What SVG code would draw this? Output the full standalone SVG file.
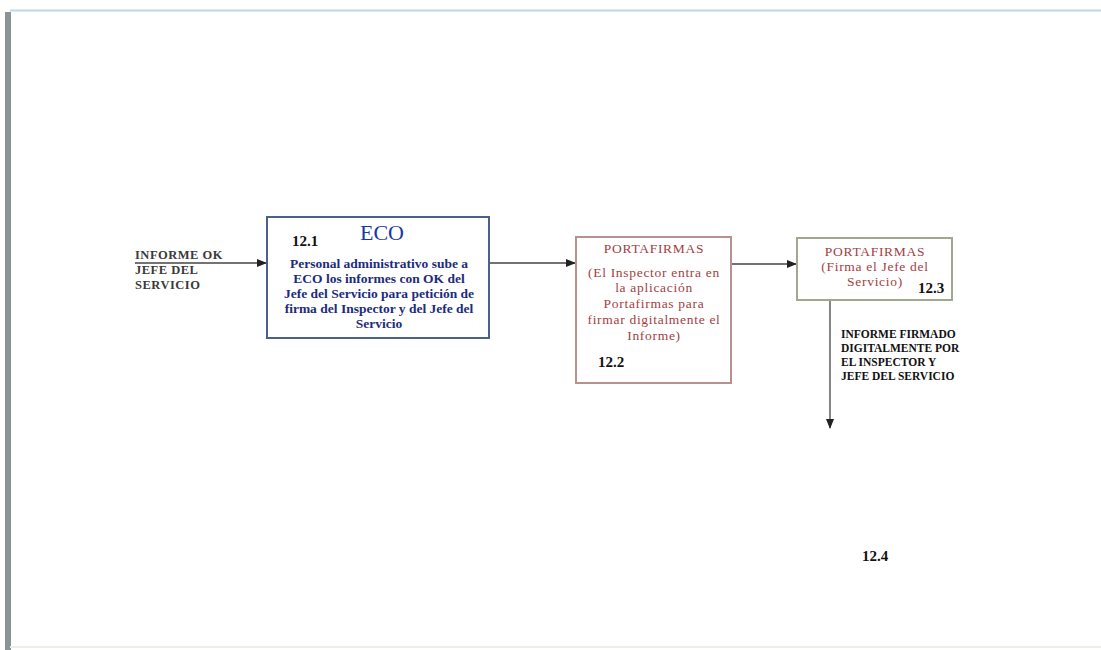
<svg xmlns="http://www.w3.org/2000/svg" width="1101" height="650" viewBox="0 0 1101 650">
<defs>
<style>
.serif{font-family:"Liberation Serif","Times New Roman",serif}
.lbl{font-family:"Liberation Serif",serif;font-size:12.5px;font-weight:bold;fill:#3a3a3a;letter-spacing:0.5px}
.out{font-family:"Liberation Serif",serif;font-size:11.5px;font-weight:bold;fill:#111}
.num{font-family:"Liberation Serif",serif;font-size:15px;font-weight:bold;fill:#111}
.red{font-family:"Liberation Serif",serif;font-size:13.5px;fill:#a5403f;text-anchor:middle;letter-spacing:0.7px}
.blue{font-family:"Liberation Serif",serif;font-size:13.5px;font-weight:bold;fill:#1c2c7c;text-anchor:middle}
.box{fill:#fff;stroke-width:2}
.conn{stroke:#444;stroke-width:1.3;fill:none}
</style>
<marker id="ah" markerWidth="10" markerHeight="8" refX="9" refY="4" orient="auto" markerUnits="userSpaceOnUse">
<path d="M0,0 L10,4 L0,8 Z" fill="#222"/>
</marker>
</defs>
<rect width="1101" height="650" fill="#fff"/>
<rect x="5" y="12" width="6" height="638" fill="#8a9494"/>
<line x1="10" y1="10.5" x2="1101" y2="10.5" stroke="#bcd8ec" stroke-width="2"/>
<line x1="10" y1="647" x2="1101" y2="647" stroke="#f0ece6" stroke-width="2"/>

<g id="connectors">
<line class="conn" x1="135" y1="263" x2="266" y2="263" marker-end="url(#ah)"/>
<line class="conn" x1="489" y1="263" x2="575" y2="263" marker-end="url(#ah)"/>
<line class="conn" x1="731" y1="264" x2="796" y2="264" marker-end="url(#ah)"/>
<line class="conn" x1="830" y1="300" x2="830" y2="428" marker-end="url(#ah)"/>
</g>

<g id="input-label">
<text class="lbl" x="135" y="259">INFORME OK</text>
<text class="lbl" x="135" y="274">JEFE DEL</text>
<text class="lbl" x="135" y="289">SERVICIO</text>
</g>

<g id="node-12-1">
<rect class="box" x="267" y="217" width="222" height="121" stroke="#4a6090"/>
<text class="num" x="292" y="246">12.1</text>
<text class="serif" x="382" y="240" font-size="22" fill="#1a38a8" text-anchor="middle">ECO</text>
<text class="blue" x="379" y="268">Personal administrativo sube a</text>
<text class="blue" x="379" y="283">ECO los informes con OK del</text>
<text class="blue" x="379" y="298">Jefe del Servicio para petición de</text>
<text class="blue" x="379" y="313">firma del Inspector y del Jefe del</text>
<text class="blue" x="379" y="328">Servicio</text>
</g>

<g id="node-12-2">
<rect class="box" x="576" y="237" width="155" height="146" stroke="#b89090"/>
<text class="red" x="654" y="253">PORTAFIRMAS</text>
<text class="red" x="654" y="277">(El Inspector entra en</text>
<text class="red" x="654" y="292">la aplicación</text>
<text class="red" x="654" y="308">Portafirmas para</text>
<text class="red" x="654" y="324">firmar digitalmente el</text>
<text class="red" x="654" y="340">Informe)</text>
<text class="num" x="598" y="367">12.2</text>
</g>

<g id="node-12-3">
<rect class="box" x="797" y="238" width="155" height="62" stroke="#a0a890"/>
<text class="red" x="875" y="256">PORTAFIRMAS</text>
<text class="red" x="875" y="271">(Firma el Jefe del</text>
<text class="red" x="875" y="286">Servicio)</text>
<text class="num" x="918" y="293">12.3</text>
</g>

<g id="output-label">
<text class="out" x="841" y="338">INFORME FIRMADO</text>
<text class="out" x="841" y="352">DIGITALMENTE POR</text>
<text class="out" x="841" y="366">EL INSPECTOR Y</text>
<text class="out" x="841" y="380">JEFE DEL SERVICIO</text>
</g>

<g id="node-12-4">
<text class="num" x="862" y="561" font-size="13">12.4</text>
</g>
</svg>
